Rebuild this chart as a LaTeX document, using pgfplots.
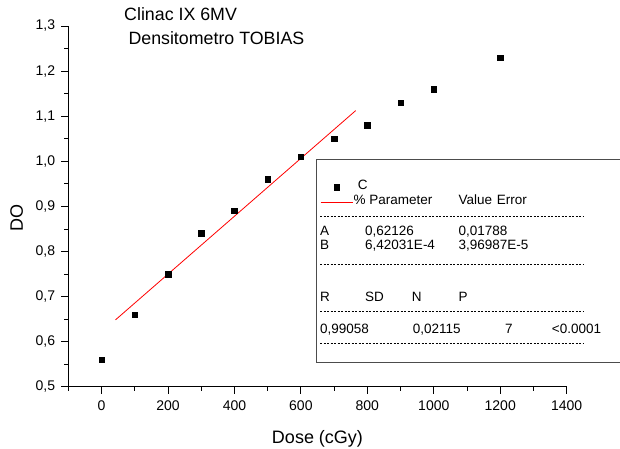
\documentclass[border=0pt]{standalone}
\usepackage{fontspec}
\setmainfont{Liberation Sans}
\usepackage{pgfplots}
\pgfplotsset{compat=1.18}

\begin{document}
\begin{tikzpicture}[x=1pt,y=1pt]
\begin{axis}[
  at={(0pt,0pt)}, anchor=south west,
  scale only axis, width=498.4pt, height=360.7pt,
  xmin=-100, xmax=1400, ymin=0.5, ymax=1.3,
  axis x line*=bottom, axis y line*=left,
  axis line style={line width=0.8pt},
  xtick={0,200,400,600,800,1000,1200,1400},
  minor xtick={-100,100,300,500,700,900,1100,1300},
  ytick={0.5,0.6,0.7,0.8,0.9,1.0,1.1,1.2,1.3},
  minor ytick={0.55,0.65,0.75,0.85,0.95,1.05,1.15,1.25},
  tick align=outside,
  major tick length=7pt, minor tick length=4pt,
  every tick/.style={line width=0.8pt, black},
  ticklabel style={font=\fontsize{14}{16}\selectfont, inner sep=0pt},
  xticklabel style={yshift=-6.5pt, /pgf/number format/.cd, 1000 sep={}, assume math mode=true},
  yticklabel style={xshift=-6pt, /pgf/number format/.cd, use comma, fixed, fixed zerofill, precision=1, assume math mode=true},
  xlabel={Dose (cGy)}, ylabel={DO},
  label style={font=\fontsize{18}{20}\selectfont},
  xlabel style={at={(axis description cs:0.5,0)}, anchor=base, yshift=-56.3pt},
  ylabel style={at={(axis description cs:-0.1035,0.4677)}, anchor=center},
  legend image code/.code={\draw[mark repeat=2,mark phase=2,#1] plot coordinates {(0pt,0pt) (16pt,0pt) (32pt,0pt)};},
  legend style={at={(axis description cs:0.5050,0.5746)}, anchor=north west,
    draw=none, fill=none, inner sep=0pt, row sep=0pt, column sep=0pt,
    font=\fontsize{13.5}{15}\selectfont,
    cells={anchor=west},
    nodes={inner sep=0pt, text height=9.7pt, text depth=5.3pt}},
  clip=false,
]
% measured optical density
\addplot[only marks, mark=square*, mark size=2.8pt, black] coordinates {
  (0,0.56) (100,0.66) (200,0.75) (300,0.84) (400,0.89) (500,0.96)
  (600,1.01) (700,1.05) (800,1.08) (900,1.13) (1000,1.16) (1200,1.23)
};
\addlegendentry{\hspace{5pt}C}
% linear fit DO = A + B*dose
\addplot[red, line width=0.8pt] coordinates {(42,0.64823) (765,1.11241)};
\addlegendentry{\hspace{0.7pt}\% Parameter}
\end{axis}

% titles
\node[anchor=base west, inner sep=0pt, font=\fontsize{17.8}{20}\selectfont] at (55.7,366.0) {Clinac IX 6MV};
\node[anchor=base west, inner sep=0pt, font=\fontsize{17.8}{20}\selectfont] at (60.0,342.4) {Densitometro TOBIAS};

% fit report box
\draw[black!70, line width=0.9pt] (560,227.7) -- (247.7,227.7) -- (247.7,24.4) -- (560,24.4);
\begin{scope}[dash pattern=on 2.2pt off 1.3pt, line width=0.7pt]
  \draw (251.7,170.7) -- (515.7,170.7);
  \draw (251.7,122.7) -- (515.7,122.7);
  \draw (251.7,75.7) -- (515.7,75.7);
  \draw (251.7,43.4) -- (515.7,43.4);
\end{scope}
\begin{scope}[every node/.style={anchor=base west, inner sep=0pt, font=\fontsize{13.5}{15}\selectfont}]
  \node at (390.0,182.55) {Value};
  \node at (428.4,182.55) {Error};
  \node at (251.7,151.0) {A};
  \node at (296.7,151.0) {0,62126};
  \node at (390.0,151.0) {0,01788};
  \node at (251.7,137.6) {B};
  \node at (296.7,137.6) {6,42031E-4};
  \node at (390.0,137.6) {3,96987E-5};
  \node at (251.7,85.2) {R};
  \node at (296.7,85.2) {SD};
  \node at (343.4,85.2) {N};
  \node at (390.0,85.2) {P};
  \node at (251.7,53.5) {0,99058};
  \node at (344.4,53.5) {0,02115};
  \node at (436.7,53.5) {7};
  \node at (483.4,53.5) {<0.0001};
\end{scope}

\pgfresetboundingbox
\useasboundingbox (-68.3,-61.3) rectangle (551.7,386.7);
\end{tikzpicture}
\end{document}
